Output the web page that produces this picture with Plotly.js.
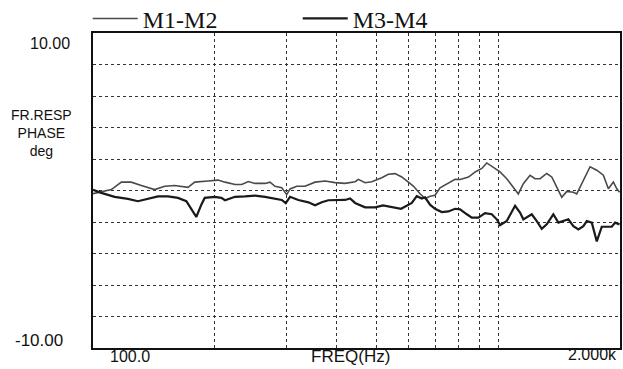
<!DOCTYPE html>
<html>
<head>
<meta charset="utf-8">
<script src="https://cdn.plot.ly/plotly-3.0.1.min.js"></script>
<style>html,body{margin:0;padding:0;background:#fff;}#chart{width:623px;height:369px;}</style>
</head>
<body>
<div id="chart"></div>
<script>
// Frequency (Hz) and phase (deg) readings
const freqA = [100, 104.8, 111.0, 117.5, 124.3, 131.6, 142.0, 150.3, 159.1, 171.6, 178.3, 192.3, 203.5, 211.8, 224.2, 232.9, 241.8, 251.2, 265.9, 273.5, 281.4, 292.4, 300.8, 306.5, 318.4, 333.8, 353.3, 374.0, 395.9, 419.0, 443.6, 452.0, 469.6, 487.8, 497.1, 516.3, 535.9, 556.8, 578.4, 595.2, 617.9, 641.8, 660.3, 679.3, 698.8, 719.0, 754.0, 783.2, 805.8, 845.2, 877.9, 911.9, 937.8, 973.6, 1011.4, 1050.6, 1090.8, 1122.1, 1154.5, 1199.4, 1234.1, 1269.6, 1318.7, 1357.0, 1396.1, 1436.4, 1477.8, 1534.2, 1564.2, 1624.0, 1687.3, 1752.6, 1819.7, 1872.0, 1926.2, 1963.8, 1995];
const phaseA = [-0.2, -0.1, 0.06, 0.53, 0.53, 0.32, 0.06, 0.27, 0.32, 0.2, 0.53, 0.6, 0.66, 0.53, 0.38, 0.38, 0.57, 0.45, 0.45, 0.53, 0.27, 0.17, -0.26, 0.1, 0.27, 0.27, 0.53, 0.6, 0.5, 0.45, 0.56, 0.71, 0.49, 0.56, 0.64, 0.81, 1.03, 1.07, 0.86, 0.6, 0.28, -0.21, -0.51, -0.36, -0.3, 0.17, 0.49, 0.71, 0.7, 0.85, 1.18, 1.4, 1.75, 1.44, 1.18, 0.75, 0.22, -0.22, 0.43, 0.97, 0.75, 0.75, 1.08, 0.86, 0.22, -0.43, -0.06, -0.11, -0.22, 0.65, 1.51, 1.29, 0.97, 0.11, 0.54, 0.11, -0.11];

const freqB = [100, 104.8, 113.1, 122.0, 129.1, 136.7, 144.7, 153.2, 162.1, 170.0, 174.9, 179.9, 185.1, 188.7, 199.7, 207.4, 211.8, 224.2, 237.3, 251.2, 265.9, 281.4, 292.4, 299.1, 306.5, 321.3, 340.2, 353.3, 367.1, 381.1, 395.9, 419.0, 431.2, 443.6, 469.6, 497.1, 520.0, 556.8, 576.2, 612.3, 630.0, 648.1, 660.3, 679.3, 698.8, 726.1, 754.0, 783.2, 805.8, 837.4, 861.2, 894.2, 928.8, 964.7, 992.7, 1011.4, 1050.6, 1101.5, 1133.0, 1154.5, 1187.8, 1211.0, 1246.1, 1281.9, 1318.7, 1369.3, 1409.1, 1449.6, 1491.6, 1534.2, 1578.9, 1624.0, 1655.8, 1703.7, 1752.6, 1803.0, 1855.4, 1908.8, 1945.2, 1995];
const phaseB = [0.05, -0.15, -0.4, -0.53, -0.68, -0.53, -0.37, -0.37, -0.47, -0.68, -1.2, -1.68, -0.9, -0.47, -0.4, -0.47, -0.62, -0.4, -0.37, -0.32, -0.4, -0.53, -0.6, -0.8, -0.4, -0.6, -0.75, -0.94, -0.75, -0.62, -0.6, -0.6, -0.51, -0.79, -1.07, -1.07, -0.94, -1.07, -1.16, -0.79, -0.36, -0.51, -0.43, -0.9, -1.16, -1.37, -1.33, -1.16, -1.2, -1.51, -1.72, -1.72, -1.44, -1.51, -1.83, -2.2, -1.94, -0.97, -1.4, -1.83, -1.61, -1.51, -1.94, -2.43, -2.15, -1.51, -2.04, -1.94, -1.83, -2.26, -2.47, -2.26, -1.94, -2.04, -3.23, -2.3, -2.3, -2.3, -2.04, -2.15];

const seriesNames = ['M1-M2', 'M3-M4'];
const xGridVals = [200, 300, 400, 500, 600, 700, 800, 900, 1000];
const yGridVals = [-8, -6, -4, -2, 0, 2, 4, 6, 8];
const yEndLabels = ['10.00', '-10.00'];
const xLabels = ['100.0', 'FREQ(Hz)', '2.000k'];
const yTitleLines = ['FR.RESP', 'PHASE', 'deg'];

const traces = [
  {x: freqA, y: phaseA, name: seriesNames[0], type: 'scatter', mode: 'lines',
   line: {color: '#4a4a4a', width: 1.6}},
  {x: freqB, y: phaseB, name: seriesNames[1], type: 'scatter', mode: 'lines',
   line: {color: '#1a1a1a', width: 2.2}}
];

const sans = 'Liberation Sans, Arial, sans-serif';
const txt = (text, x, y, xa, ya, size) => ({text: text, xref: 'paper', yref: 'paper', x: x, y: y,
  xanchor: xa, yanchor: ya, showarrow: false, font: {family: sans, size: size, color: '#111'}});
const annotations = [
  txt(yEndLabels[0], -0.040, 0.968, 'right', 'middle', 16),
  txt(yEndLabels[1], -0.053, 0.025, 'right', 'middle', 17),
  txt(yTitleLines.join('<br>'), -0.097, 0.683, 'center', 'middle', 14),
  txt(xLabels[0], 0.028, -0.028, 'left', 'middle', 16),
  txt(xLabels[1], 0.488, -0.026, 'center', 'middle', 17),
  txt(xLabels[2], 0.998, -0.022, 'right', 'middle', 16)
];

const layout = {
  width: 623, height: 369,
  margin: {l: 93, r: 3, t: 33, b: 21, autoexpand: false},
  paper_bgcolor: '#fff', plot_bgcolor: '#fff',
  showlegend: true,
  legend: {orientation: 'h', x: -0.01, xanchor: 'left', y: 1.045, yanchor: 'middle',
    font: {family: 'Liberation Serif, Times New Roman, serif', size: 24, color: '#111'},
    entrywidth: 150, entrywidthmode: 'pixels', itemwidth: 45, bgcolor: 'rgba(0,0,0,0)'},
  xaxis: {type: 'log', range: [2, Math.log10(2000)], tickvals: xGridVals, showticklabels: false,
    ticks: '', showgrid: true, gridcolor: '#333', griddash: 'dot', gridwidth: 1,
    showline: true, mirror: true, linecolor: '#111', linewidth: 1.6, zeroline: false, fixedrange: true},
  yaxis: {range: [-10, 10], tickvals: yGridVals, showticklabels: false, ticks: '',
    showgrid: true, gridcolor: '#333', griddash: 'dot', gridwidth: 1,
    showline: true, mirror: true, linecolor: '#111', linewidth: 1.6, zeroline: false, fixedrange: true},
  annotations: annotations
};

Plotly.newPlot('chart', traces, layout, {displayModeBar: false, staticPlot: true});
</script>
</body>
</html>
